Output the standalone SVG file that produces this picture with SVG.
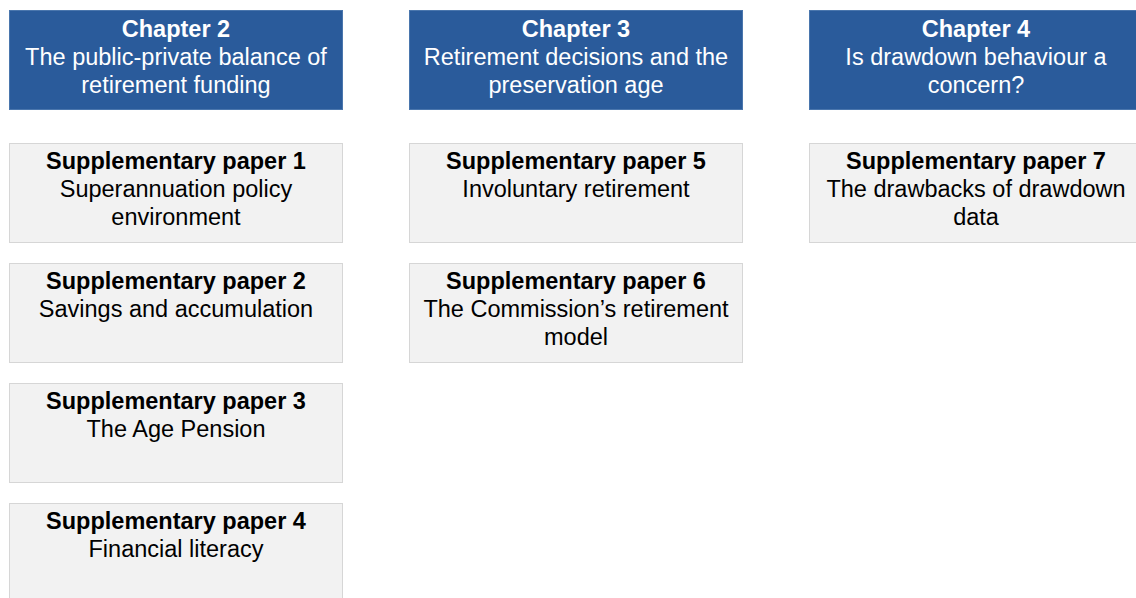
<svg xmlns="http://www.w3.org/2000/svg" width="1136" height="598" viewBox="0 0 1136 598">
  <style>
    .chap rect { fill: #2a5b9b; stroke: #4a76ad; stroke-width: 1; }
    .chap text { fill: #ffffff; }
    .paper rect { fill: #f2f2f2; stroke: #d6d6d6; stroke-width: 1; }
    .paper text { fill: #000000; }
    text { font-family: "Liberation Sans", Arial, sans-serif; font-size: 23.5px; text-anchor: middle; }
    .b { font-weight: bold; }
  </style>
  <rect width="1136" height="598" fill="#ffffff"/>

  <!-- Chapter headers -->
  <g id="chapter2" class="chap">
    <rect x="9.5" y="10.5" width="333" height="99"/>
    <text x="176" y="37" class="b">Chapter 2</text>
    <text x="176" y="65">The public-private balance of</text>
    <text x="176" y="93">retirement funding</text>
  </g>
  <g id="chapter3" class="chap">
    <rect x="409.5" y="10.5" width="333" height="99"/>
    <text x="576" y="37" class="b">Chapter 3</text>
    <text x="576" y="65">Retirement decisions and the</text>
    <text x="576" y="93">preservation age</text>
  </g>
  <g id="chapter4" class="chap">
    <rect x="809.5" y="10.5" width="333" height="99"/>
    <text x="976" y="37" class="b">Chapter 4</text>
    <text x="976" y="65">Is drawdown behaviour a</text>
    <text x="976" y="93">concern?</text>
  </g>

  <!-- Supplementary papers, column 1 -->
  <g id="paper1" class="paper">
    <rect x="9.5" y="143.5" width="333" height="99"/>
    <text x="176" y="169" class="b">Supplementary paper 1</text>
    <text x="176" y="197">Superannuation policy</text>
    <text x="176" y="225">environment</text>
  </g>
  <g id="paper2" class="paper">
    <rect x="9.5" y="263.5" width="333" height="99"/>
    <text x="176" y="289" class="b">Supplementary paper 2</text>
    <text x="176" y="317">Savings and accumulation</text>
  </g>
  <g id="paper3" class="paper">
    <rect x="9.5" y="383.5" width="333" height="99"/>
    <text x="176" y="409" class="b">Supplementary paper 3</text>
    <text x="176" y="437">The Age Pension</text>
  </g>
  <g id="paper4" class="paper">
    <rect x="9.5" y="503.5" width="333" height="99"/>
    <text x="176" y="529" class="b">Supplementary paper 4</text>
    <text x="176" y="557">Financial literacy</text>
  </g>

  <!-- Supplementary papers, column 2 -->
  <g id="paper5" class="paper">
    <rect x="409.5" y="143.5" width="333" height="99"/>
    <text x="576" y="169" class="b">Supplementary paper 5</text>
    <text x="576" y="197">Involuntary retirement</text>
  </g>
  <g id="paper6" class="paper">
    <rect x="409.5" y="263.5" width="333" height="99"/>
    <text x="576" y="289" class="b">Supplementary paper 6</text>
    <text x="576" y="317">The Commission’s retirement</text>
    <text x="576" y="345">model</text>
  </g>

  <!-- Supplementary papers, column 3 -->
  <g id="paper7" class="paper">
    <rect x="809.5" y="143.5" width="333" height="99"/>
    <text x="976" y="169" class="b">Supplementary paper 7</text>
    <text x="976" y="197">The drawbacks of drawdown</text>
    <text x="976" y="225">data</text>
  </g>

  <!-- No connectors in this layout -->
  <g id="connectors"/>
</svg>
